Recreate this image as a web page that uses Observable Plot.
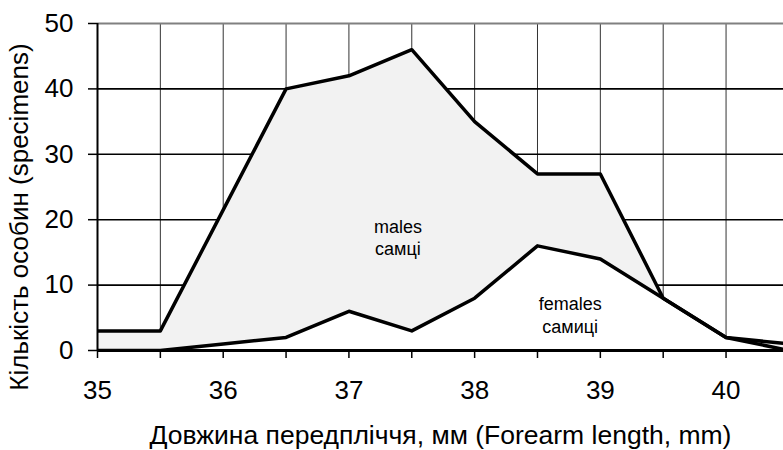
<!DOCTYPE html>
<html><head><meta charset="utf-8">
<script src="https://cdn.jsdelivr.net/npm/d3@7"></script>
<script src="https://cdn.jsdelivr.net/npm/@observablehq/plot@0.6"></script>
<style>body{margin:0;background:#fff;overflow:hidden}</style>
</head><body><div id="chart"></div>
<script>
const lengths = [35, 35.5, 36, 36.5, 37, 37.5, 38, 38.5, 39, 39.5, 40, 40.5];
const males   = [3, 3, 21.5, 40, 42, 46, 35, 27, 27, 8, 2, 1];
const females = [0, 0, 1, 2, 6, 3, 8, 16, 14, 8, 2, 0];
const yTicks = [0, 10, 20, 30, 40, 50];
const xMinorTicks = [35, 35.5, 36, 36.5, 37, 37.5, 38, 38.5, 39, 39.5, 40];
const xTitle = "Довжина передпліччя, мм (Forearm length, mm)";
const yTitle = "Кількість особин (specimens)";
const notes = [
  {x: 37.39, y: 17.4, text: "males\nсамці"},
  {x: 38.76, y: 5.5, text: "females\nсамиці"}
];

const data = lengths.map((x, i) => ({x, m: males[i], f: females[i]}));

const chart = Plot.plot({
  width: 783,
  height: 450,
  marginLeft: 97,
  marginRight: 0,
  marginTop: 23,
  marginBottom: 100,
  style: {fontFamily: "'Liberation Sans', Arial, sans-serif", color: "#000", background: "#fff", overflow: "hidden"},
  x: {domain: [35, 40.457]},
  y: {domain: [0, 50]},
  marks: [
    Plot.ruleX(xMinorTicks.filter(d => d > 35), {stroke: "#333", strokeWidth: 1}),
    Plot.ruleY(yTicks.filter(d => d > 0 && d < 50), {stroke: "#000", strokeWidth: 1.6}),
    Plot.ruleY([50], {stroke: "#808080", strokeWidth: 2}),
    Plot.areaY(data, {x: "x", y: "m", fill: "#f2f2f2", clip: true}),
    Plot.areaY(data, {x: "x", y: "f", fill: "#fff", clip: true}),
    Plot.line(data, {x: "x", y: "m", stroke: "#000", strokeWidth: 3.5, clip: true}),
    Plot.line(data, {x: "x", y: "f", stroke: "#000", strokeWidth: 3.5, clip: true}),
    Plot.ruleX([35], {stroke: "#000", strokeWidth: 2}),
    Plot.ruleY([0], {stroke: "#000", strokeWidth: 3}),
    Plot.axisY(yTicks, {tickSize: 9, tickPadding: 15, fontSize: 26, label: null, stroke: "#000", strokeWidth: 1.5}),
    Plot.axisX(xMinorTicks, {tickSize: 8, tickPadding: 22, fontSize: 26, label: null, stroke: "#000", strokeWidth: 1.5,
      tickFormat: d => Number.isInteger(d) ? String(d) : ""}),
    Plot.text([xTitle], {frameAnchor: "bottom", lineAnchor: "middle", dy: 85.5, fontSize: 26.5, fill: "#000"}),
    Plot.text([yTitle], {frameAnchor: "left", textAnchor: "middle", lineAnchor: "middle", dx: -78, dy: 30, rotate: -90, fontSize: 26, fill: "#000"}),
    Plot.text(notes, {x: "x", y: "y", text: "text", fontSize: 18, lineHeight: 1.25, fill: "#000"})
  ]
});
document.getElementById("chart").appendChild(chart);
</script>
</body></html>
